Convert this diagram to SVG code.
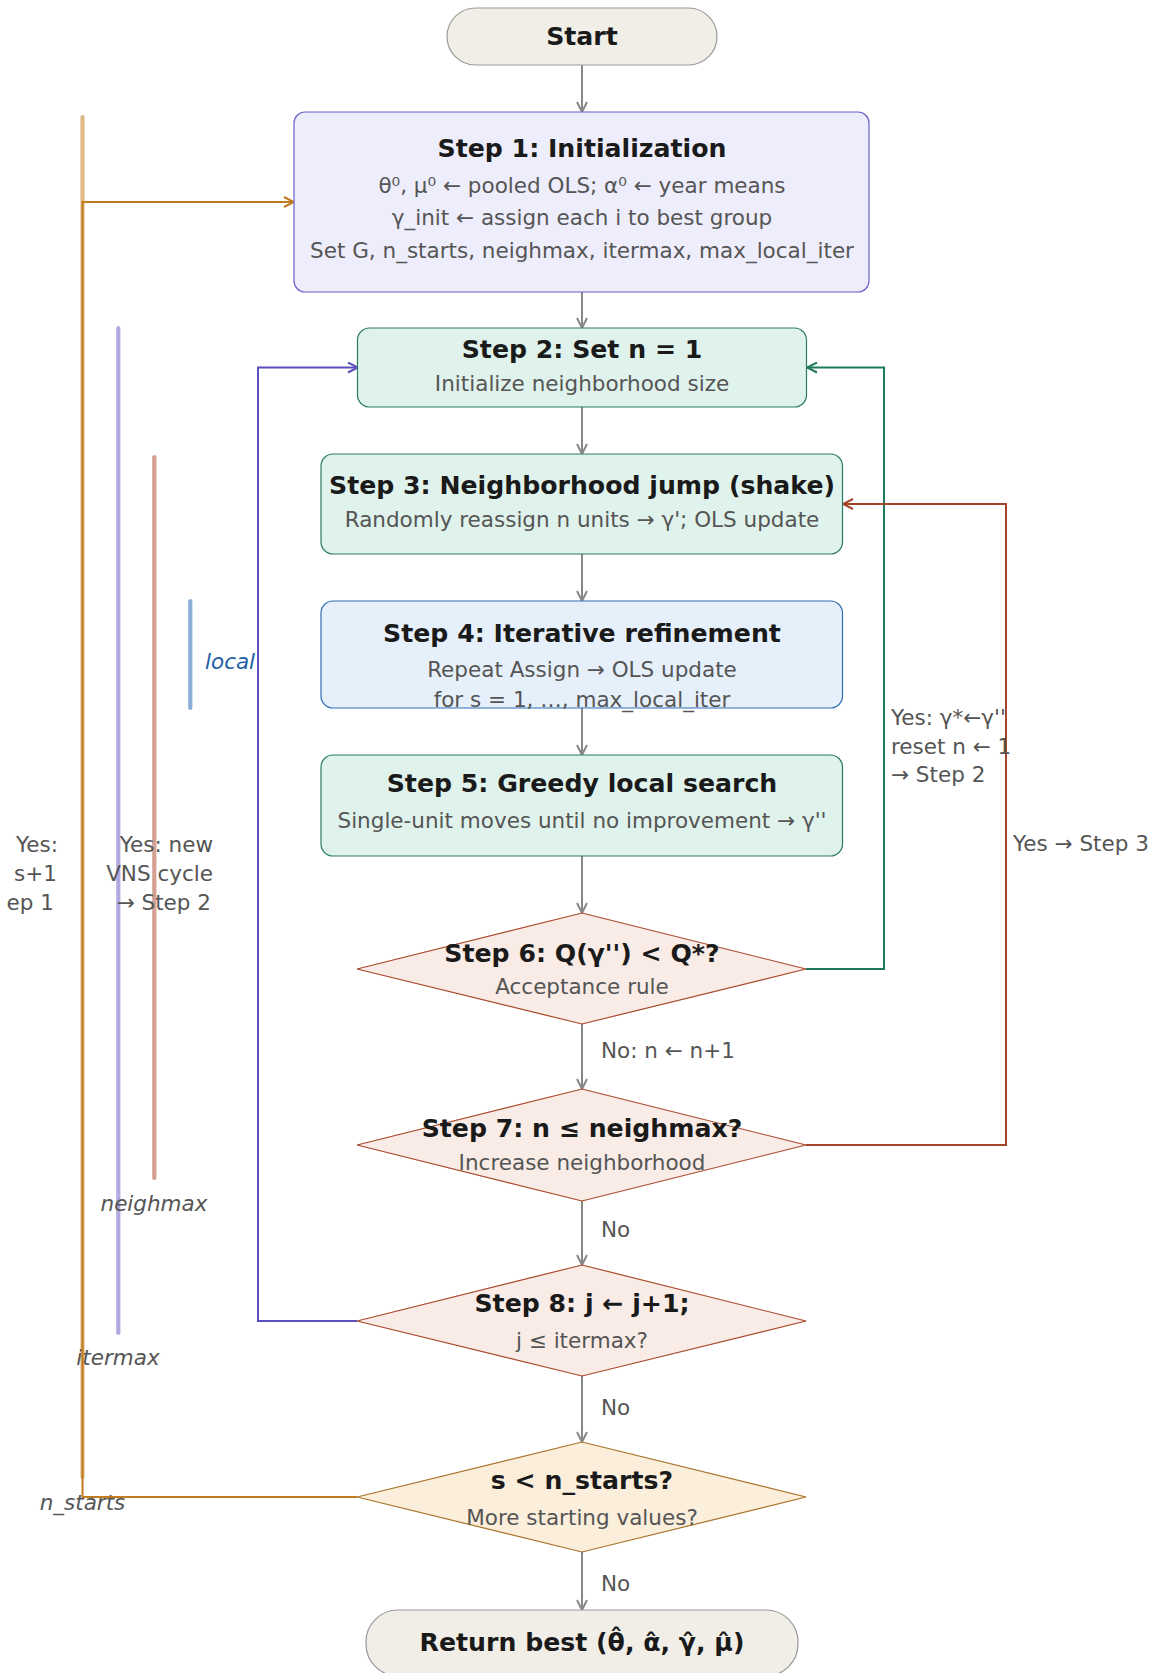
<svg xmlns="http://www.w3.org/2000/svg" width="1155" height="1673" viewBox="0 0 1155 1673">
<style>
text{font-family:"DejaVu Sans","Liberation Sans",sans-serif;}
.t{font-size:25.2px;font-weight:bold;fill:#1a1a1a;text-anchor:middle;}
.s{font-size:21.5px;fill:#555;text-anchor:middle;}
.l{font-size:21.5px;fill:#555;}
.e{text-anchor:end;}
.it{font-size:21.5px;font-style:italic;fill:#555;text-anchor:middle;}
.pill{fill:#f0eee7;stroke:#999;stroke-width:1.2;}
.green{fill:#e0f2ec;stroke:#2b7c60;stroke-width:1.2;}
.dia{fill:#f9ece6;stroke:#a8482a;stroke-width:1.2;}
.c{fill:none;stroke-width:2;}
.bar{stroke-width:4.2;stroke-linecap:round;fill:none;}
</style>
<defs>
<marker id="ag" viewBox="0 0 12 12" refX="11" refY="6" markerWidth="12" markerHeight="12" markerUnits="userSpaceOnUse" orient="auto"><path d="M1,1 L11,6 L1,11" fill="none" stroke="#888" stroke-width="2"/></marker>
<marker id="agr" viewBox="0 0 12 12" refX="11" refY="6" markerWidth="12" markerHeight="12" markerUnits="userSpaceOnUse" orient="auto"><path d="M1,1 L11,6 L1,11" fill="none" stroke="#1e7a5c" stroke-width="2"/></marker>
<marker id="ard" viewBox="0 0 12 12" refX="11" refY="6" markerWidth="12" markerHeight="12" markerUnits="userSpaceOnUse" orient="auto"><path d="M1,1 L11,6 L1,11" fill="none" stroke="#a3452a" stroke-width="2"/></marker>
<marker id="apu" viewBox="0 0 12 12" refX="11" refY="6" markerWidth="12" markerHeight="12" markerUnits="userSpaceOnUse" orient="auto"><path d="M1,1 L11,6 L1,11" fill="none" stroke="#5a4fbf" stroke-width="2"/></marker>
<marker id="aor" viewBox="0 0 12 12" refX="11" refY="6" markerWidth="12" markerHeight="12" markerUnits="userSpaceOnUse" orient="auto"><path d="M1,1 L11,6 L1,11" fill="none" stroke="#c27a1e" stroke-width="2"/></marker>
</defs>

<g id="loop-bars">
<line class="bar" x1="82.5" y1="117" x2="82.5" y2="1477" stroke="#e0bb87"/>
<line class="bar" x1="118.3" y1="328" x2="118.3" y2="1333" stroke="#b1a9e0"/>
<line class="bar" x1="154.3" y1="457" x2="154.3" y2="1178" stroke="#d4a092"/>
<line class="bar" x1="190.3" y1="601" x2="190.3" y2="708" stroke="#8cb1d9"/>
<text x="205" y="669" style="font-size:21.5px;font-style:italic;fill:#1f5fa8">local</text>
<text class="it" x="154" y="1211">neighmax</text>
<text class="it" x="118" y="1365">itermax</text>
<text class="it" x="82.5" y="1510">n_starts</text>
</g>

<g id="connectors">
<path class="c" stroke="#888" marker-end="url(#ag)" d="M582,65 V112"/>
<path class="c" stroke="#888" marker-end="url(#ag)" d="M582,292 V328"/>
<path class="c" stroke="#888" marker-end="url(#ag)" d="M582,407 V454"/>
<path class="c" stroke="#888" marker-end="url(#ag)" d="M582,554 V601"/>
<path class="c" stroke="#888" marker-end="url(#ag)" d="M582,708 V755"/>
<path class="c" stroke="#888" marker-end="url(#ag)" d="M582,856 V913"/>
<path class="c" stroke="#888" marker-end="url(#ag)" d="M582,1024 V1089"/>
<path class="c" stroke="#888" marker-end="url(#ag)" d="M582,1201 V1265"/>
<path class="c" stroke="#888" marker-end="url(#ag)" d="M582,1376 V1442"/>
<path class="c" stroke="#888" marker-end="url(#ag)" d="M582,1552 V1610"/>
<path class="c" stroke="#1e7a5c" marker-end="url(#agr)" d="M806,969 H884 V367.5 H807"/>
<path class="c" stroke="#a3452a" marker-end="url(#ard)" d="M806,1145 H1006 V504 H843"/>
<path class="c" stroke="#5a4fbf" marker-end="url(#apu)" d="M357,1321 H258 V367.5 H358"/>
<path class="c" stroke="#c27a1e" marker-end="url(#aor)" d="M357,1497 H82.5 V202 H294"/>
<text class="l" x="601" y="1058">No: n ← n+1</text>
<text class="l" x="601" y="1237">No</text>
<text class="l" x="601" y="1415">No</text>
<text class="l" x="601" y="1591">No</text>
<text class="l" x="891" y="725">Yes: γ*←γ''</text>
<text class="l" x="891" y="754">reset n ← 1</text>
<text class="l" x="891" y="782">→ Step 2</text>
<text class="l" x="1013" y="851">Yes → Step 3</text>
<text class="l e" x="58" y="852">Yes:</text>
<text class="l e" x="57" y="881">s+1</text>
<text class="l e" x="54" y="910">ep 1</text>
<text class="l e" x="213" y="852">Yes: new</text>
<text class="l e" x="213" y="881">VNS cycle</text>
<text class="l e" x="211" y="910">→ Step 2</text>
</g>

<g id="start">
<rect class="pill" x="447" y="8" width="270" height="57" rx="28.5"/>
<text class="t" x="582" y="45">Start</text>
</g>
<g id="step1">
<rect x="294" y="112" width="575" height="180" rx="11" fill="#ededfb" stroke="#6a60c8" stroke-width="1.2"/>
<text class="t" x="582" y="157">Step 1: Initialization</text>
<text class="s" x="582" y="193">θ⁰, μ⁰ ← pooled OLS; α⁰ ← year means</text>
<text class="s" x="582" y="225">γ_init ← assign each i to best group</text>
<text class="s" x="582" y="258">Set G, n_starts, neighmax, itermax, max_local_iter</text>
</g>
<g id="step2">
<rect class="green" x="357.5" y="328" width="449" height="79" rx="12"/>
<text class="t" x="582" y="358">Step 2: Set n = 1</text>
<text class="s" x="582" y="391">Initialize neighborhood size</text>
</g>
<g id="step3">
<rect class="green" x="321" y="454" width="521.5" height="100" rx="12"/>
<text class="t" x="582" y="494">Step 3: Neighborhood jump (shake)</text>
<text class="s" x="582" y="527">Randomly reassign n units → γ'; OLS update</text>
</g>
<g id="step4">
<rect x="321" y="601" width="521.5" height="107" rx="12" fill="#e6f0fa" stroke="#2f6db5" stroke-width="1.2"/>
<text class="t" x="582" y="642">Step 4: Iterative refinement</text>
<text class="s" x="582" y="677">Repeat Assign → OLS update</text>
<text class="s" x="582" y="707">for s = 1, …, max_local_iter</text>
</g>
<g id="step5">
<rect class="green" x="321" y="755" width="521.5" height="101" rx="12"/>
<text class="t" x="582" y="792">Step 5: Greedy local search</text>
<text class="s" x="582" y="828">Single-unit moves until no improvement → γ''</text>
</g>
<g id="step6">
<polygon class="dia" points="582,913 806,969 582,1024 357,969"/>
<text class="t" x="582" y="962">Step 6: Q(γ'') &lt; Q*?</text>
<text class="s" x="582" y="994">Acceptance rule</text>
</g>
<g id="step7">
<polygon class="dia" points="582,1089 806,1145 582,1201 357,1145"/>
<text class="t" x="582" y="1137">Step 7: n ≤ neighmax?</text>
<text class="s" x="582" y="1170">Increase neighborhood</text>
</g>
<g id="step8">
<polygon class="dia" points="582,1265 806,1321 582,1376 357,1321"/>
<text class="t" x="582" y="1312">Step 8: j ← j+1;</text>
<text class="s" x="582" y="1348">j ≤ itermax?</text>
</g>
<g id="starts-check">
<polygon points="582,1442 806,1497 582,1552 357,1497" fill="#fbeedb" stroke="#a87228" stroke-width="1.2"/>
<text class="t" x="582" y="1489">s &lt; n_starts?</text>
<text class="s" x="582" y="1525">More starting values?</text>
</g>
<g id="return">
<rect class="pill" x="366" y="1610" width="432" height="66" rx="32"/>
<text class="t" x="582" y="1651">Return best (θ̂, α̂, γ̂, μ̂)</text>
</g>
</svg>
